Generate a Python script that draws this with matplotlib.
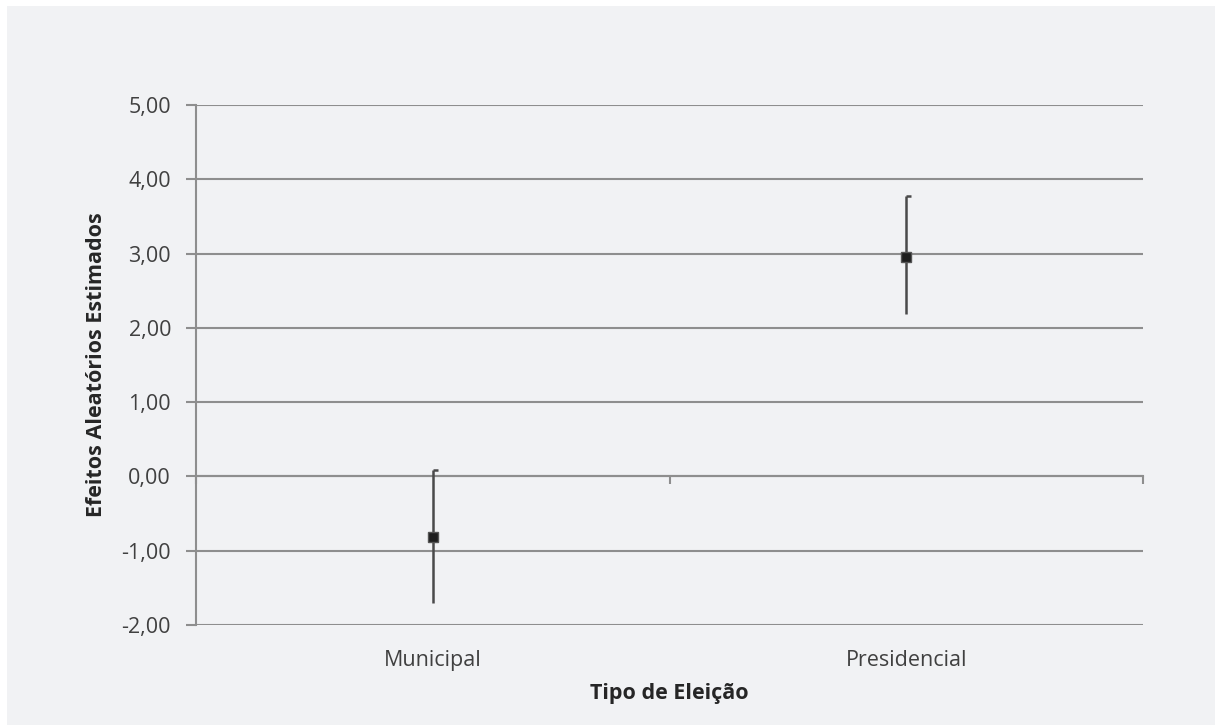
import matplotlib
matplotlib.use("Agg")
import matplotlib.pyplot as plt
from matplotlib.patches import Rectangle
from matplotlib.ticker import FixedLocator, FuncFormatter

plt.rcParams['font.family'] = ['Open Sans', 'DejaVu Sans']

# Estimated random effects by election type
categories = ["Municipal", "Presidencial"]
estimates = [-0.82, 2.96]
upper = [0.08, 3.77]
lower = [-1.71, 2.18]
y_ticks = [-2, -1, 0, 1, 2, 3, 4, 5]

bg = "#f1f2f4"
grid_c = "#8e8e8e"
text_c = "#404040"
fs = 15.5

W, H = 1215, 725
fig = plt.figure(figsize=(W / 100, H / 100), dpi=100, facecolor="white")
fig.patches.append(Rectangle((7 / W, 0), 1 - 7 / W, 1 - 6 / H,
                             transform=fig.transFigure, facecolor=bg,
                             edgecolor="none", zorder=-10))

ax = fig.add_axes([196 / W, 100 / H, 947 / W, 520 / H])
ax.set_facecolor(bg)

x = list(range(len(categories)))

# high-low lines with a short cap at the top
for xi, est, hi, lo in zip(x, estimates, upper, lower):
    ax.plot([xi, xi], [lo, hi], color="#4a4a4a", lw=1.8, zorder=3,
            solid_capstyle="butt")
    ax.plot([xi, xi + 0.011], [hi, hi], color="#4a4a4a", lw=1.8, zorder=3,
            solid_capstyle="butt")
ax.plot(x, estimates, linestyle="none", marker="s", markersize=7,
        markerfacecolor="#1e1e1e", markeredgecolor="#555555",
        markeredgewidth=1.0, zorder=4)

ax.set_xlim(-0.5, 1.5)
ax.set_ylim(min(y_ticks), max(y_ticks))

# y axis
ax.set_yticks(y_ticks)
ax.yaxis.set_major_formatter(FuncFormatter(lambda v, p: f"{v:.2f}".replace(".", ",")))
ax.yaxis.grid(True, color=grid_c, lw=1.5)
ax.set_axisbelow(True)
ax.tick_params(axis="y", direction="out", length=7, width=1.5, color=grid_c,
               labelsize=fs, labelcolor=text_c, pad=11)

# category labels at the bottom of the plot area
ax.set_xticks(x)
ax.set_xticklabels(categories)
ax.tick_params(axis="x", length=0, labelsize=fs, labelcolor=text_c, pad=18)

for side in ["top", "right", "bottom"]:
    ax.spines[side].set_visible(False)
ax.spines["left"].set_color(grid_c)
ax.spines["left"].set_linewidth(1.5)

# horizontal category axis crossing at zero
frac = (0 - min(y_ticks)) / (max(y_ticks) - min(y_ticks))
sec = ax.secondary_xaxis(frac)
sec.xaxis.set_major_locator(FixedLocator([-0.5, 0.5, 1.5]))
sec.tick_params(axis="x", direction="out", length=6, width=1.5, color=grid_c,
                labelbottom=False)
sec.spines["bottom"].set_color(grid_c)
sec.spines["bottom"].set_linewidth(1.5)

ax.set_xlabel("Tipo de Eleição", fontsize=fs, fontweight="bold",
              color="#262626", labelpad=9)
ax.set_ylabel("Efeitos Aleatórios Estimados", fontsize=fs, fontweight="bold",
              color="#262626", labelpad=10)

fig.savefig("out.png", dpi=100, facecolor=fig.get_facecolor())
